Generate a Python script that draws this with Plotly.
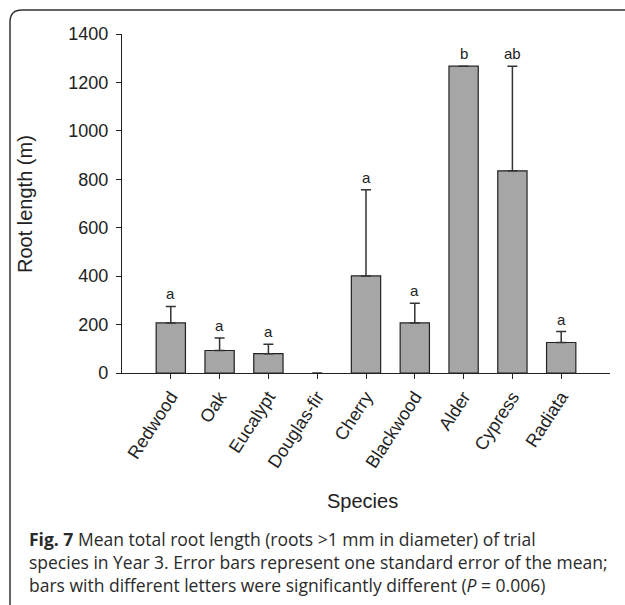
import plotly.graph_objects as go

species = ["Redwood", "Oak", "Eucalypt", "Douglas-fir", "Cherry", "Blackwood", "Alder", "Cypress", "Radiata"]
means = [207, 93, 80, 0, 401, 207, 1267, 835, 126]
se = [68, 52, 39, 0, 356, 81, 0, 432, 45]
letters = ["a", "a", "a", "", "a", "a", "b", "ab", "a"]
y_ticks = [0, 200, 400, 600, 800, 1000, 1200, 1400]

W, H = 625, 605
L, R, T, B = 122, 15, 34, 232
pw, ph = W - L - R, H - T - B

def px(x):
    return (x - L) / pw

def py(y):
    return (H - B - y) / ph

fig = go.Figure()
fig.add_trace(go.Bar(
    x=list(range(len(species))), y=means, width=0.6,
    marker=dict(color="#a6a6a6", line=dict(color="#222222", width=[0 if m == 0 else 1.2 for m in means])),
    error_y=dict(type="data", array=se, arrayminus=[0] * len(se), symmetric=False,
                 color="#333333", thickness=1.5, width=5),
    showlegend=False, hoverinfo="skip",
))

for i, (m, s, t) in enumerate(zip(means, se, letters)):
    if t:
        fig.add_annotation(x=i, y=m + s, text=t, showarrow=False, yanchor="bottom", yshift=2,
                           font=dict(family="Liberation Sans, Arial", size=15, color="#222222"))

r = 12
path = (f"M {px(10)},{py(650)} L {px(10)},{py(10 + r)} Q {px(10)},{py(10)} {px(10 + r)},{py(10)} "
        f"L {px(660)},{py(10)}")
fig.add_shape(type="path", path=path, xref="paper", yref="paper",
              line=dict(color="#333333", width=1.5))

fig.add_annotation(x=px(362), y=py(501), xref="paper", yref="paper", text="Species", showarrow=False,
                   xanchor="center", yanchor="middle",
                   font=dict(family="Liberation Sans, Arial", size=20, color="#222222"))
fig.add_annotation(x=px(25), y=py(204), xref="paper", yref="paper", text="Root length (m)", showarrow=False,
                   xanchor="center", yanchor="middle",
                   textangle=-90, font=dict(family="Liberation Sans, Arial", size=20, color="#222222"))
caption = ("<b>Fig. 7</b> Mean total root length (roots &gt;1 mm in diameter) of trial<br>"
           "species in Year 3. Error bars represent one standard error of the mean;<br>"
           "bars with different letters were significantly different (<i>P</i> = 0.006)")
fig.add_annotation(x=px(27), y=py(525), xref="paper", yref="paper", text=caption, showarrow=False,
                   xanchor="left", yanchor="top", align="left",
                   font=dict(family="Open Sans", size=17.5, color="#2a2a2a"))

fig.update_layout(
    width=W, height=H, margin=dict(l=L, r=R, t=T, b=B),
    paper_bgcolor="white", plot_bgcolor="white",
    xaxis=dict(range=[-1, 9], tickmode="array", tickvals=list(range(len(species))), ticktext=species,
               tickangle=-57, showline=True, linecolor="#222222", linewidth=1.2,
               ticks="outside", ticklen=5, tickcolor="#222222",
               showgrid=False, zeroline=False,
               tickfont=dict(family="Liberation Sans, Arial", size=18, color="#222222")),
    yaxis=dict(range=[0, 1400], tickvals=y_ticks, showline=True, linecolor="#222222", linewidth=1.2,
               ticks="outside", ticklen=5, tickcolor="#222222", showgrid=False, zeroline=False,
               ticklabelstandoff=4,
               tickfont=dict(family="Liberation Sans, Arial", size=18, color="#222222")),
)

fig.write_html("out.html", config={"displayModeBar": False},
               post_script="document.body.style.margin='0';")
